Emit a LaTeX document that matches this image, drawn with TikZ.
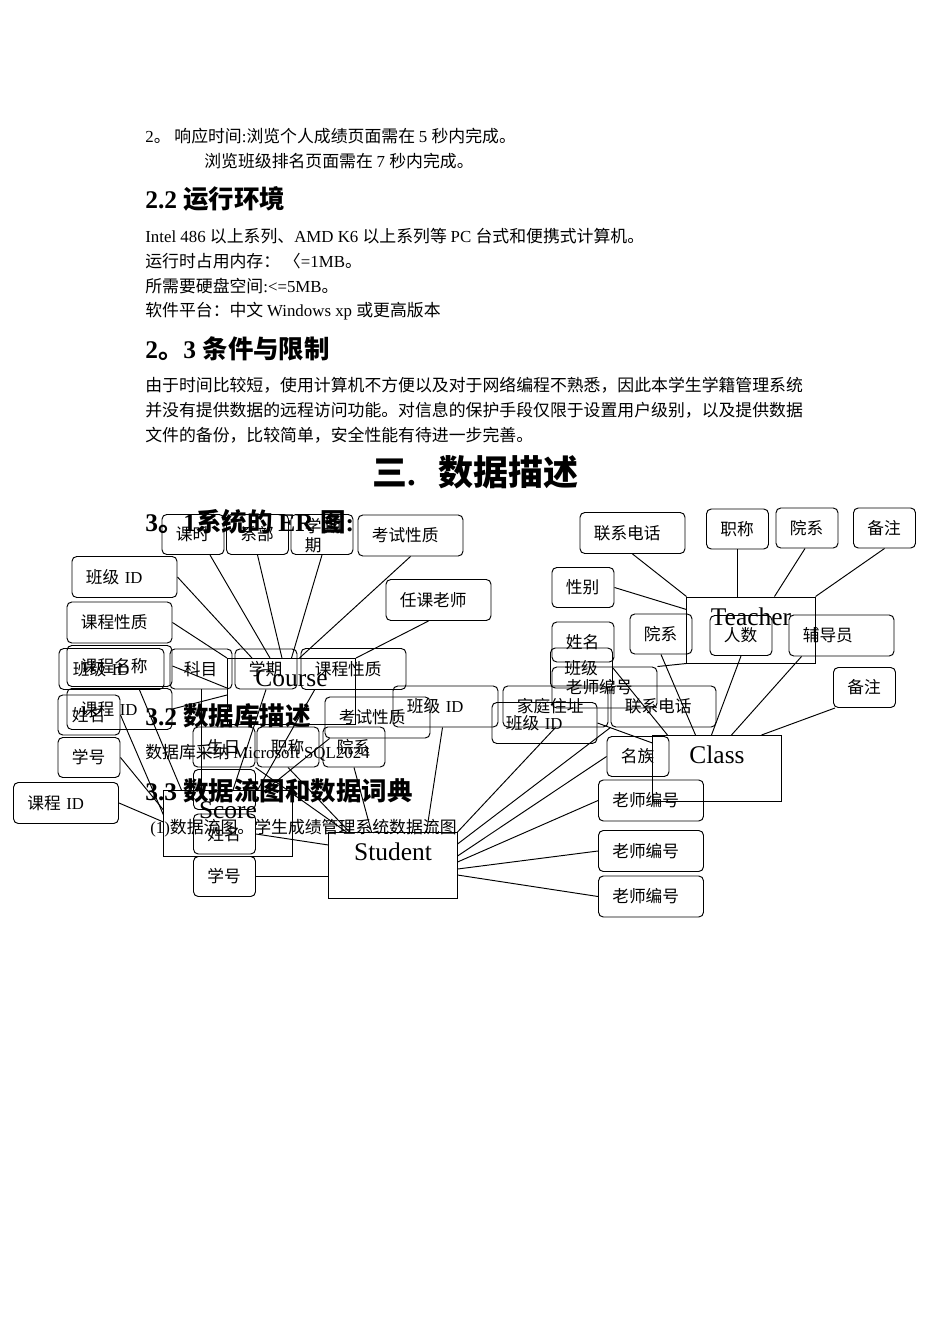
\documentclass[tikz,border=0pt]{standalone}
\usepackage{fontspec}
\setmainfont{Liberation Serif}
\newfontfamily\cjk{Noto Sans CJK SC}
% switch to the CJK family for ideographs and CJK punctuation
\newcount\zhc
\def\zhrange#1#2{\zhc=#1\relax
 \loop\XeTeXcharclass\zhc=7\relax\ifnum\zhc<#2\advance\zhc by 1\repeat}
\zhrange{"3000}{"303F}
\zhrange{"4E00}{"9FFF}
\zhrange{"FF00}{"FFEF}
\XeTeXinterchartokenstate=1
\XeTeXinterchartoks 0 7 = {\cjk}
\XeTeXinterchartoks 4095 7 = {\cjk}
\XeTeXinterchartoks 7 0 = {\rmfamily}
\XeTeXinterchartoks 4095 0 = {\rmfamily}
\usetikzlibrary{calc}

\begin{document}
\begin{tikzpicture}[x=0.0221cm,y=-0.0221cm,
 txt/.style={anchor=west,inner sep=0pt,font=\fontsize{10.6}{13}\selectfont},
 hd/.style={anchor=west,inner sep=0pt,font=\fontsize{16}{19}\selectfont\bfseries},
 box/.style={draw,line width=0.6pt,rounded corners=3pt,inner xsep=3.05mm,inner ysep=0pt,align=left,font=\fontsize{10.5}{12.5}\selectfont},
 sattr/.style={box,text width=7.6mm,minimum height=8.84mm},
 wattr/.style={box,text width=17.1mm,minimum height=9.06mm},
 ent/.style={draw,line width=0.6pt,minimum width=28.3mm,inner ysep=0pt,text height=17.8pt,text depth=23.7pt,font=\fontsize{16}{18}\selectfont},
 ln/.style={line width=0.6pt}]
 \useasboundingbox (0,0) rectangle (950,1344);
 % page text
 \node[txt] (l1) at (145,136) {2。 响应时间:浏览个人成绩页面需在 5 秒内完成。};
 \node[txt] (l2) at (204,161) {浏览班级排名页面需在 7 秒内完成。};
 \node[hd] (h22) at (145,199) {2.2 运行环境};
 \node[txt] (l3) at (145,236) {Intel 486 以上系列、AMD K6 以上系列等 PC 台式和便携式计算机。};
 \node[txt] (l4) at (145,261) {运行时占用内存： 〈=1MB。};
 \node[txt] (l5) at (145,286) {所需要硬盘空间:<=5MB。};
 \node[txt] (l6) at (145,311) {软件平台：中文 Windows xp 或更高版本};
 \node[hd] (h23) at (145,349) {2。3 条件与限制};
 \node[txt] (p1) at (145,385) {由于时间比较短，使用计算机不方便以及对于网络编程不熟悉，因此本学生学籍管理系统};
 \node[txt] (p2) at (145,410) {并没有提供数据的远程访问功能。对信息的保护手段仅限于设置用户级别，以及提供数据};
 \node[txt] (p3) at (145,435) {文件的备份，比较简单，安全性能有待进一步完善。};
 \node[inner sep=0pt,font=\fontsize{22}{26}\selectfont\bfseries] (h3) at (475,472) {三.\hspace{14pt}数据描述};
 \node[hd] (h31) at (145,522) {3。1系统的 ER 图:};
 \node[hd] (h32) at (145,716) {3.2 数据库描述};
 \node[txt] (l7) at (145,753) {数据库采纳 Microsoft SQL2024};
 \node[hd] (h33) at (145,791) {3.3 数据流图和数据词典};
 \node[txt] (l8) at (150,828) {(1)数据流图。学生成绩管理系统数据流图};

 % entities
 \node[ent] (course) at (291.5,691.5) {Course};
 \node[ent] (teacher) at (751,630) {Teacher};
 \node[ent] (class) at (717,768.5) {Class};
 \node[ent] (score) at (228,823.5) {Score};
 \node[ent] (student) at (393,865.5) {Student};

 % attributes round course
 \node[sattr] (keshi) at (193,534.5) {课时};
 \node[sattr] (xibu) at (257.5,534.5) {系部};
 \node[sattr,text depth=12pt] (xueqiA) at (322,534.5) {\mbox{学\,期}\\期};
 \node[wattr] (kaoshiA) at (410.5,535.5) {考试性质};
 \node[wattr] (bjidA) at (124.5,577) {班级 ID};
 \node[wattr] (kcxzA) at (119.5,622.5) {课程性质};
 \node[wattr] (renke) at (438.5,600) {任课老师};
 \node[sattr] (kemu) at (201,669) {科目};
 \node[sattr] (xueqiB) at (266,669) {学期};
 \node[wattr] (kcxzB) at (353.5,669) {课程性质};
 \node[wattr] (bjidB) at (111.5,669) {班级 ID};
 \node[wattr] (kcmc) at (119.5,666) {课程名称};
 \node[wattr] (kcidA) at (119.5,709) {课程 ID};
 % attributes round score
 \node[sattr] (xmA) at (89,715) {姓名};
 \node[sattr] (xhA) at (89,757.5) {学号};
 \node[wattr] (kcidB) at (66,803) {课程 ID};
 \node[wattr] (kaoshiB) at (377.5,717.5) {考试性质};
 % attributes round student
 \node[sattr] (shengri) at (224,747) {生日};
 \node[sattr] (zcA) at (288,747) {职称};
 \node[sattr] (yxA) at (354,747) {院系};
 \node[sattr] (sbox) at (224.5,789.5) {};
 \node[sattr] (xmB) at (224.5,834) {姓名};
 \node[sattr] (xhB) at (224.5,876.5) {学号};
 \node[wattr] (bjidC) at (445.5,706.5) {班级 ID};
 \node[wattr] (jiating) at (555.5,706.5) {家庭住址};
 \node[wattr] (bjidD) at (544.5,723) {班级 ID};
 \node[sattr] (minzu) at (638,756.5) {名族};
 \node[wattr] (lsbhA) at (651,800.5) {老师编号};
 \node[wattr] (lsbhB) at (651,851) {老师编号};
 \node[wattr] (lsbhC) at (651,896.5) {老师编号};
 % attributes round teacher
 \node[wattr] (lxdhA) at (632.5,533) {联系电话};
 \node[sattr] (zcB) at (737.5,529) {职称};
 \node[sattr] (yxB) at (807,528) {院系};
 \node[sattr] (bzA) at (884.5,528) {备注};
 \node[sattr] (xingbie) at (583,587.5) {性别};
 \node[sattr] (xmC) at (583,642) {姓名};
 % attributes round class
 \node[sattr] (yxC) at (661,634) {院系};
 \node[sattr] (renshu) at (741,635.5) {人数};
 \node[wattr] (fudao) at (841.5,635.5) {辅导员};
 \node[sattr] (bzB) at (864.5,687.5) {备注};
 \node[sattr] (banji) at (581.5,668) {班级};
 \node[wattr] (lsbhD) at (604.5,687.5) {老师编号};
 \node[wattr] (lxdhB) at (663.5,706.5) {联系电话};

 % course links
 \draw[ln] ($(keshi.south)+(17,0)$) -- ($(course.north west)+(43,0)$);
 \draw[ln] (xibu.south) -- ($(course.north west)+(55,0)$);
 \draw[ln] (xueqiA.south) -- (course.north);
 \draw[ln] (kaoshiA.south) -- ($(course.north)+(8,0)$);
 \draw[ln] (bjidA.east) -- ($(course.north west)+(25,0)$);
 \draw[ln] (kcxzA.east) -- (course.north west);
 \draw[ln] ($(renke.south)+(-10,0)$) -- (course.north east);
 \draw[ln] (kcmc.east) -- ($(course.north west)+(0,30)$);
 \draw[ln] (kcidA.east) -- ($(course.north west)+(0,37)$);
 % score links
 \draw[ln] ($(bjidB.south)+(28,0)$) -- ($(score.north west)+(18,0)$);
 \draw[ln] (xmA.east) -- ($(score.north west)+(0,25)$);
 \draw[ln] (xhA.east) -- ($(score.north west)+(0,20)$);
 \draw[ln] (kcidB.east) -- ($(score.north west)+(0,32)$);
 \draw[ln] (kemu.south) -- (kemu.south |- score.north);
 \draw[ln] (xueqiB.south) -- ($(score.north)+(5,0)$);
 \draw[ln] ($(kcxzB.south west)+(14,0)$) -- ($(score.north east)+(-35,0)$);
 \draw[ln] ($(kaoshiB.south west)+(5,0)$) -- ($(score.north east)+(-27,0)$);
 % student links
 \draw[ln] (shengri.south east) -- ($(student.north west)+(18,0)$);
 \draw[ln] (zcA.south) -- ($(student.north west)+(21,0)$);
 \draw[ln] (yxA.south) -- ($(student.north west)+(43,0)$);
 \draw[ln] ($(bjidC.south)+(-3,0)$) -- ($(student.north west)+(98,0)$);
 \draw[ln] (xmB.east) -- ($(student.north west)+(0,13)$);
 \draw[ln] (xhB.east) -- (xhB.east -| student.west);
 \draw[ln] (jiating.south) -- (student.north east);
 \draw[ln] (lxdhB.south west) -- ($(student.north east)+(0,12)$);
 \draw[ln] (minzu.west) -- ($(student.north east)+(0,24)$);
 \draw[ln] (lsbhA.west) -- ($(student.north east)+(0,30)$);
 \draw[ln] (lsbhB.west) -- ($(student.north east)+(0,37)$);
 \draw[ln] (lsbhC.west) -- ($(student.north east)+(0,43)$);
 % teacher links
 \draw[ln] (lxdhA.south) -- (teacher.north west);
 \draw[ln] (xingbie.east) -- ($(teacher.north west)+(0,13)$);
 \draw[ln] ($(xmC.east)+(0,-5)$) -- ($(xmC.east)+(0,-5)$ -| teacher.west);
 \draw[ln] (zcB.south) -- (zcB.south |- teacher.north);
 \draw[ln] ($(yxB.south)+(-2,0)$) -- ($(teacher.north west)+(88,0)$);
 \draw[ln] (bzA.south) -- (teacher.north east);
 \draw[ln] (lsbhD.north east) -- (teacher.south west);
 % class links
 \draw[ln] (yxC.south) -- ($(class.north west)+(43,0)$);
 \draw[ln] (renshu.south) -- ($(class.north west)+(59,0)$);
 \draw[ln] ($(fudao.south west)+(13,0)$) -- ($(class.north west)+(79,0)$);
 \draw[ln] ($(bzB.south west)+(2,0)$) -- ($(class.north west)+(109,0)$);
 \draw[ln] (banji.east) -- ($(class.north west)+(15,0)$);
 \draw[ln] (bjidD.east) -- ($(class.north west)+(0,8)$);
\end{tikzpicture}
\end{document}
